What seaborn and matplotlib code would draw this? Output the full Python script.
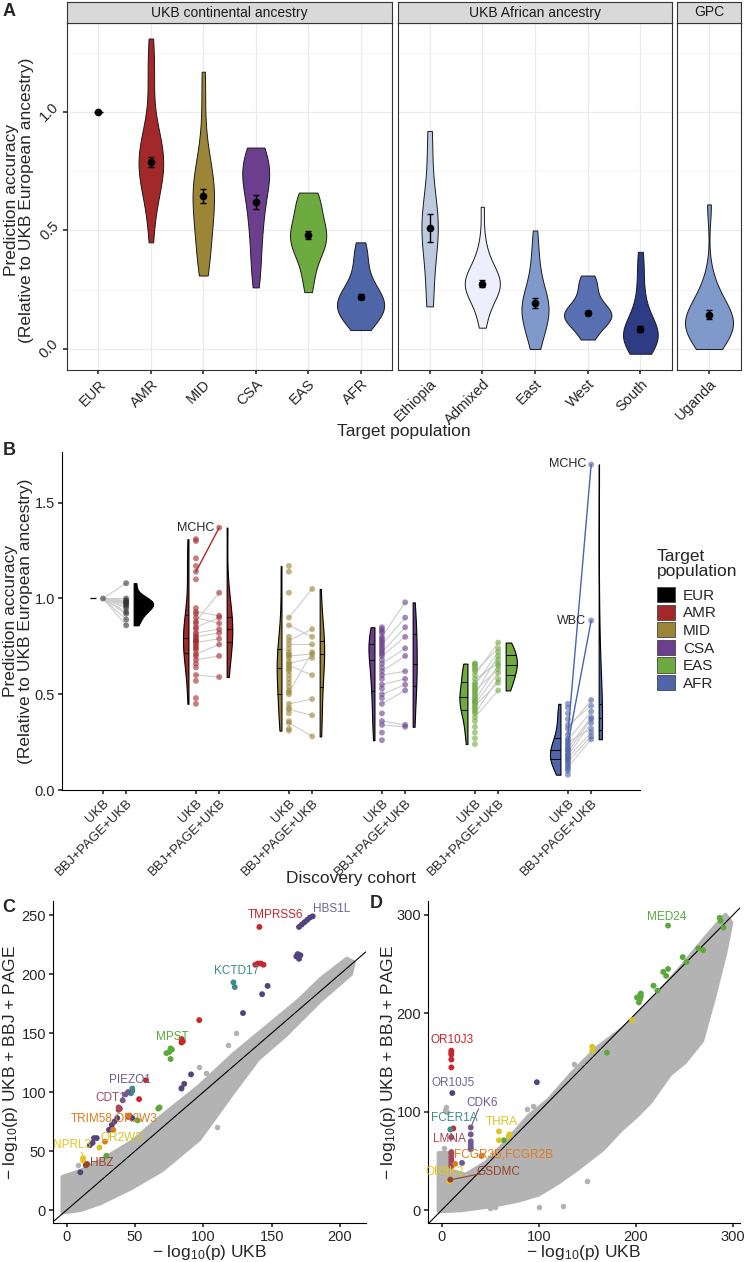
import pandas as pd
import matplotlib.pyplot as plt
import seaborn as sns
from matplotlib.patches import Patch

sns.set_theme(style="white")
plt.rcParams['font.family'] = ['Liberation Sans', 'DejaVu Sans']
plt.rcParams['mathtext.fontset'] = 'custom'
plt.rcParams['mathtext.rm'] = 'Liberation Sans'
plt.rcParams['mathtext.it'] = 'Liberation Sans:italic'

# ---------------- data ----------------
# accuracy relative to UKB European ancestry, UKB discovery, one value per trait
eur_ukb = [1.00]
amr_ukb = [1.31, 1.30, 1.21, 1.17, 1.14, 1.10, 0.95, 0.93, 0.92, 0.90, 0.88, 0.87, 0.85, 0.84,
           0.82, 0.81, 0.80, 0.79, 0.78, 0.78, 0.77, 0.76, 0.75, 0.74, 0.73, 0.71, 0.70, 0.68,
           0.66, 0.64, 0.60, 0.57, 0.48, 0.45]
mid_ukb = [1.17, 1.14, 1.03, 0.90, 0.86, 0.80, 0.78, 0.76, 0.74, 0.72, 0.71, 0.70, 0.69, 0.67,
           0.66, 0.65, 0.64, 0.63, 0.62, 0.60, 0.58, 0.56, 0.54, 0.52, 0.51, 0.50, 0.45, 0.43,
           0.42, 0.40, 0.36, 0.35, 0.32, 0.31]
csa_ukb = [0.85, 0.84, 0.83, 0.82, 0.80, 0.79, 0.78, 0.77, 0.76, 0.75, 0.74, 0.73, 0.72, 0.71,
           0.70, 0.68, 0.66, 0.64, 0.62, 0.60, 0.58, 0.55, 0.53, 0.50, 0.48, 0.45, 0.40, 0.36,
           0.34, 0.30, 0.26]
eas_ukb = [0.66, 0.66, 0.65, 0.64, 0.63, 0.62, 0.60, 0.58, 0.56, 0.55, 0.54, 0.53, 0.52, 0.51,
           0.50, 0.49, 0.48, 0.47, 0.46, 0.46, 0.45, 0.44, 0.43, 0.42, 0.41, 0.40, 0.38, 0.36,
           0.33, 0.30, 0.27, 0.24]
afr_ukb = [0.45, 0.43, 0.40, 0.37, 0.34, 0.32, 0.29, 0.27, 0.26, 0.25, 0.24, 0.23, 0.22, 0.21,
           0.21, 0.20, 0.19, 0.18, 0.18, 0.17, 0.16, 0.16, 0.15, 0.14, 0.13, 0.12, 0.11, 0.10, 0.08]

# UKB African sub-populations and GPC (Uganda)
ethiopia = [0.18, 0.19, 0.21, 0.23, 0.35, 0.40, 0.43, 0.45, 0.47, 0.49, 0.50, 0.51, 0.53, 0.55,
            0.57, 0.59, 0.62, 0.66, 0.71, 0.86, 0.90, 0.92]
admixed = [0.09, 0.14, 0.18, 0.21, 0.23, 0.24, 0.25, 0.26, 0.27, 0.27, 0.28, 0.29, 0.30, 0.31,
           0.32, 0.34, 0.36, 0.40, 0.46, 0.60]
east = [0.00, 0.03, 0.06, 0.09, 0.11, 0.13, 0.14, 0.16, 0.17, 0.18, 0.19, 0.20, 0.22, 0.24,
        0.27, 0.31, 0.36, 0.42, 0.50]
west = [0.04, 0.06, 0.08, 0.10, 0.11, 0.12, 0.13, 0.13, 0.14, 0.14, 0.15, 0.15, 0.16, 0.17,
        0.18, 0.19, 0.21, 0.23, 0.26, 0.28, 0.29, 0.31]
south = [-0.02, 0.00, 0.01, 0.02, 0.03, 0.04, 0.05, 0.06, 0.06, 0.07, 0.08, 0.09, 0.10, 0.12,
         0.14, 0.17, 0.22, 0.28, 0.35, 0.41]
uganda = [0.00, 0.02, 0.04, 0.06, 0.07, 0.08, 0.09, 0.10, 0.11, 0.12, 0.13, 0.14, 0.15, 0.17,
          0.19, 0.21, 0.24, 0.30, 0.61]

# panel A mean and standard error per target population
a_pops = ['EUR', 'AMR', 'MID', 'CSA', 'EAS', 'AFR', 'Ethiopia', 'Admixed', 'East', 'West',
          'South', 'Uganda']
a_mean = [1.00, 0.79, 0.645, 0.62, 0.48, 0.22, 0.51, 0.275, 0.195, 0.152, 0.085, 0.145]
a_se = [0.0, 0.02, 0.03, 0.03, 0.017, 0.01, 0.058, 0.015, 0.022, 0.01, 0.012, 0.018]

# panel B paired traits: UKB value -> BBJ+PAGE+UKB value
eur_pair_ukb = [1.00, 1.00, 1.00, 1.00, 1.00, 1.00, 1.00, 1.00, 1.00, 1.00, 1.00, 1.00, 1.00]
eur_pair_multi = [1.08, 1.00, 0.99, 0.985, 0.98, 0.975, 0.97, 0.96, 0.95, 0.93, 0.92, 0.89, 0.86]
amr_pair_ukb = [0.88, 0.93, 0.85, 0.90, 0.82, 0.80, 0.77, 0.71, 0.68, 0.60]
amr_pair_multi = [1.03, 0.91, 0.90, 0.87, 0.84, 0.82, 0.79, 0.76, 0.70, 0.59]
mid_pair_ukb = [0.90, 0.86, 0.78, 0.76, 0.70, 0.66, 0.51, 0.65, 0.45, 0.42, 0.35]
mid_pair_multi = [1.05, 0.80, 0.84, 0.76, 0.71, 0.69, 0.72, 0.60, 0.475, 0.39, 0.28]
csa_pair_ukb = [0.80, 0.76, 0.72, 0.70, 0.66, 0.62, 0.60, 0.55, 0.50, 0.45, 0.36, 0.34]
csa_pair_multi = [0.98, 0.90, 0.85, 0.80, 0.74, 0.70, 0.62, 0.58, 0.55, 0.52, 0.34, 0.33]
eas_pair_ukb = [0.60, 0.62, 0.55, 0.50, 0.56, 0.58, 0.47, 0.52, 0.45, 0.40, 0.44, 0.38]
eas_pair_multi = [0.77, 0.74, 0.72, 0.70, 0.68, 0.66, 0.65, 0.63, 0.61, 0.58, 0.56, 0.52]
afr_pair_ukb = [0.32, 0.34, 0.26, 0.22, 0.20, 0.18, 0.25, 0.17, 0.15, 0.12]
afr_pair_multi = [0.47, 0.44, 0.41, 0.38, 0.37, 0.35, 0.32, 0.30, 0.28, 0.265]

# highlighted traits in panel B
hl_pop = ['AMR', 'AFR', 'AFR']
hl_trait = ['MCHC', 'MCHC', 'WBC']
hl_ukb = [1.14, 0.29, 0.24]
hl_multi = [1.37, 1.70, 0.885]

pop_colors = {'EUR': '#000000', 'AMR': '#A3282A', 'MID': '#9C8537', 'CSA': '#6C3F8E',
              'EAS': '#6DAA3F', 'AFR': '#4E65A8', 'Ethiopia': '#BCCADF', 'Admixed': '#EEEEFC',
              'East': '#7F9ACA', 'West': '#5870B2', 'South': '#2E3B85', 'Uganda': '#7F9ACA'}
hl_colors = {'AMR': '#B0282C', 'AFR': '#4A63B2'}

# panel C: -log10(p) UKB vs UKB+BBJ+PAGE, coloured loci
c_x = [141, 138, 140, 142, 144, 97, 84, 85, 84, 58, 53, 46, 45,
       170, 172, 174, 176, 178, 180, 168, 169, 170, 171, 147, 143, 129, 91, 86, 84, 48, 37,
       35, 33, 31, 22, 20, 19, 17, 10,
       122, 123, 48, 48, 47,
       76, 77, 75, 73, 76, 68, 67, 52, 29,
       43, 45, 41, 38, 38, 39, 45, 34, 28, 24, 12, 12, 14, 15]
c_y = [240, 208, 209, 209, 208, 161, 145, 143, 142, 110, 94, 80, 79,
       240, 242, 244, 246, 248, 249, 215, 217, 213, 216, 190, 183, 167, 115, 107, 103, 78, 78,
       75, 72, 68, 61, 61, 57, 55, 32,
       193, 189, 103, 101, 99,
       137, 136, 134, 133, 128, 87, 86, 76, 46,
       98, 100, 93, 87, 85, 86, 80, 68, 58, 53, 42, 44, 38, 39]
c_grp = (['TMPRSS6'] * 13 + ['HBS1L'] * 26 + ['KCTD17'] * 5 + ['MPST'] * 9
         + ['PIEZO1'] * 3 + ['CDT1'] * 3 + ['TRIM58,OR2W3'] * 3 + ['OR2W3'] + ['NPRL3'] * 2
         + ['HBZ'] * 2)
c_grey_x = [118, 124, 150, 164, 175, 97, 102, 84, 63, 56, 186, 205, 197, 8, 130, 110, 90]
c_grey_y = [140, 150, 158, 166, 175, 121, 116, 104, 38, 34, 189, 210, 205, 38, 128, 70, 60]
# outline of the dense grey cloud (upper edge then lower edge)
c_env_x = [-3, 10, 25, 48, 70, 97, 122, 146, 170, 186, 205, 210,
           208, 186, 160, 140, 122, 97, 70, 48, 25, 10, -3]
c_env_y = [28, 33, 42, 58, 80, 105, 132, 155, 178, 196, 213, 210,
           200, 178, 148, 128, 100, 60, 34, 19, 6, 0, -2]
c_lab = ['TMPRSS6', 'HBS1L', 'KCTD17', 'MPST', 'PIEZO1', 'CDT1', 'TRIM58,OR2W3', 'OR2W3',
         'NPRL3', 'HBZ']
c_lab_x = [153, 194, 124, 77, 46, 32, 34.5, 40, 4, 25.6]
c_lab_y = [250, 255, 203, 147, 110, 95, 78, 61, 55.5, 39.5]

# panel D
d_x = [233, 201, 203, 204, 204, 205, 205, 287, 290, 286, 264, 269, 248, 252, 228, 231, 233,
       218, 222, 170, 64,
       196, 155, 155, 59, 59, 69, 70, 8,
       10, 10, 10, 10, 10, 12,
       98, 11, 30, 30, 30, 30, 30, 30, 21,
       9, 10, 10, 10, 10, 10, 10, 10, 14, 41, 9]
d_y = [289, 216, 211, 214, 218, 220, 217, 294, 287, 297, 266, 264, 257, 252, 242, 238, 245,
       228, 223, 160, 71,
       193, 166, 162, 80, 71, 75, 77, 29,
       162, 160, 158, 153, 145, 83,
       130, 119, 84, 77, 70, 67, 64, 62, 48,
       82, 74, 59, 57, 54, 51, 48, 45, 47, 55, 31]
d_grp = (['MED24'] * 21 + ['THRA'] * 7 + ['OR8K2'] + ['OR10J3'] * 6 + ['OR10J5'] * 2
         + ['CDK6'] * 7 + ['FCER1A'] + ['LMNA'] * 7 + ['FCGR3B,FCGR2B'] * 2 + ['GSDMC'])
d_grey_x = [5, 3, 6, 2, 125, 55, 50, 249, 228, 238, 222, 218, 258, 262, 88, 94, 136, 100, 150]
d_grey_y = [105, 102, 100, 63, 4, 3, 2, 162, 190, 191, 183, 161, 214, 212, 103, 106, 148, 3, 30]
d_env_x = [-3, 8, 10, 25, 45, 65, 90, 110, 135, 160, 190, 215, 245, 270, 292, 298,
           292, 280, 268, 250, 235, 215, 200, 185, 166, 140, 120, 100, 80, 50, 20, -3]
d_env_y = [58, 58, 40, 36, 48, 68, 96, 112, 140, 165, 187, 212, 245, 275, 300, 292,
           262, 215, 172, 150, 138, 110, 95, 82, 62, 42, 28, 16, 10, 4, 0, -1]
d_lab = ['MED24', 'OR10J3', 'OR10J5', 'CDK6', 'FCER1A', 'THRA', 'LMNA', 'FCGR3B,FCGR2B',
         'OR8K2', 'GSDMC']
d_lab_x = [232, 11, 12, 42, 13, 62, 8, 64, 3, 58]
d_lab_y = [298, 173, 129.5, 109, 93.5, 89.5, 72, 57, 39, 39]

gene_colors = {'TMPRSS6': '#C9252B', 'HBS1L': '#54447E', 'KCTD17': '#3E8B8B', 'MPST': '#5CA83B',
               'PIEZO1': '#6B5C93', 'CDT1': '#A4485E', 'TRIM58,OR2W3': '#DF7A1C',
               'OR2W3': '#D6C21F', 'NPRL3': '#E6C51D', 'HBZ': '#934528',
               'MED24': '#5CA83B', 'THRA': '#DCC420', 'OR10J3': '#C9252B', 'OR10J5': '#54447E',
               'CDK6': '#6B5C93', 'FCER1A': '#3E8B8B', 'LMNA': '#A4485E',
               'FCGR3B,FCGR2B': '#DF7A1C', 'OR8K2': '#E6C51D', 'GSDMC': '#934528'}
label_colors = dict(gene_colors, HBS1L='#6F619B', OR10J5='#6F619B')

# ---------------- figure ----------------
W, H = 744, 1262
fig = plt.figure(figsize=(W / 100, H / 100), dpi=100)


def px_box(x0, y0, x1, y1):
    return [x0 / W, 1 - y1 / H, (x1 - x0) / W, (y1 - y0) / H]


# ---- panel A ----
a_values = {'EUR': eur_ukb, 'AMR': amr_ukb, 'MID': mid_ukb, 'CSA': csa_ukb, 'EAS': eas_ukb,
            'AFR': afr_ukb, 'Ethiopia': ethiopia, 'Admixed': admixed, 'East': east,
            'West': west, 'South': south, 'Uganda': uganda}
dfA = pd.DataFrame([(p, v) for p in a_pops for v in a_values[p]], columns=['pop', 'acc'])
a_stats = pd.DataFrame({'pop': a_pops, 'mean': a_mean, 'se': a_se}).set_index('pop')

facets = [('UKB continental ancestry', a_pops[:6], 67, 392),
          ('UKB African ancestry', a_pops[6:11], 398, 672),
          ('GPC', a_pops[11:], 677, 741)]
for i, (title, order, x0, x1) in enumerate(facets):
    ax = fig.add_axes(px_box(x0, 23, x1, 370))
    sub = dfA[dfA['pop'].isin(order) & (dfA['pop'] != 'EUR')]
    sns.violinplot(data=sub, x='pop', y='acc', hue='pop', order=order,
                   palette=pop_colors, cut=0, inner=None, density_norm='area',
                   common_norm=True, width=0.9, linewidth=0.7, linecolor='#1a1a1a',
                   saturation=1, legend=False, ax=ax)
    if 'EUR' in order:
        # zero-variance violin collapses to a short line
        ax.hlines(eur_ukb[0], -0.085, 0.085, color='black', lw=1)
    st = a_stats.loc[order]
    ax.errorbar(range(len(order)), st['mean'], yerr=st['se'], fmt='o', color='black',
                ms=4.5, elinewidth=1, capsize=2.5, capthick=1, zorder=5)
    ax.set_xlim(-0.6, len(order) - 0.4)
    ax.set_ylim(-0.0886, 1.3755)
    ax.set_yticks([0, 0.5, 1.0])
    ax.set_yticks([0.25, 0.75, 1.25], minor=True)
    ax.grid(True, which='major', color='#EBEBEB', lw=0.9)
    ax.grid(True, which='minor', axis='y', color='#F2F2F2', lw=0.6)
    ax.set_axisbelow(True)
    for s in ax.spines.values():
        s.set_color('#333333')
        s.set_linewidth(0.8)
    ax.set_xlabel('')
    ax.set_ylabel('')
    ax.tick_params(axis='x', which='major', length=3, color='#333333', labelsize=10.5, pad=2,
                   bottom=True)
    for lab in ax.get_xticklabels():
        lab.set_rotation(45)
        lab.set_ha('right')
        lab.set_rotation_mode('anchor')
    if i == 0:
        ax.tick_params(axis='y', which='major', length=3, color='#333333', labelsize=10.5,
                       left=True, pad=1)
        ax.set_yticklabels(['0.0', '0.5', '1.0'], rotation=45, ha='right', va='center')
    else:
        ax.tick_params(axis='y', which='both', left=False, labelleft=False)
    ax.tick_params(axis='y', which='minor', left=False)
    strip = fig.add_axes(px_box(x0, 2, x1, 23))
    strip.set_facecolor('#D9D9D9')
    strip.set_xticks([])
    strip.set_yticks([])
    for s in strip.spines.values():
        s.set_color('#333333')
        s.set_linewidth(0.8)
    strip.text(0.5, 0.5, title, ha='center', va='center', fontsize=10, color='#1a1a1a',
               transform=strip.transAxes)

fig.text(19 / W, 1 - 200 / H, 'Prediction accuracy\n(Relative to UKB European ancestry)',
         rotation=90, ha='center', va='center', fontsize=12.5, linespacing=1.05)
fig.text(404 / W, 1 - 431 / H, 'Target population', ha='center', va='center', fontsize=12.5)

# ---- panel B ----
b_pops = ['EUR', 'AMR', 'MID', 'CSA', 'EAS', 'AFR']
b_ukb = {'EUR': eur_ukb, 'AMR': amr_ukb, 'MID': mid_ukb, 'CSA': csa_ukb, 'EAS': eas_ukb,
         'AFR': afr_ukb}
b_pairs = {'EUR': (eur_pair_ukb, eur_pair_multi), 'AMR': (amr_pair_ukb, amr_pair_multi),
           'MID': (mid_pair_ukb, mid_pair_multi), 'CSA': (csa_pair_ukb, csa_pair_multi),
           'EAS': (eas_pair_ukb, eas_pair_multi), 'AFR': (afr_pair_ukb, afr_pair_multi)}
UKB_OFF, MULTI_OFF = -0.125, 0.125
# seaborn draws an un-dodged split half with its flat edge half a width from the position
VIO_WIDTH = 0.55
VIO_POS = 0.2 + 0.2 * VIO_WIDTH

vio_rows, pt_rows, line_rows = [], [], []
for g, p in enumerate(b_pops):
    multi = list(b_pairs[p][1]) + [m for hp, m in zip(hl_pop, hl_multi) if hp == p]
    if p != 'EUR':
        vio_rows += [(g - VIO_POS, p + '|UKB', v) for v in b_ukb[p]]
    vio_rows += [(g + VIO_POS, p + '|multi', v) for v in multi]
    pt_rows += [(g + UKB_OFF, v, p) for v in b_ukb[p]]
    pt_rows += [(g + MULTI_OFF, v, p) for v in multi]
    line_rows += [(g, u, m) for u, m in zip(*b_pairs[p])]
dfV = pd.DataFrame(vio_rows, columns=['pos', 'key', 'acc'])
dfP = pd.DataFrame(pt_rows, columns=['x', 'acc', 'pop'])
keys = [p + '|' + c for p in b_pops for c in ('UKB', 'multi')]
key_pal = {k: pop_colors[k.split('|')[0]] for k in keys}

axb = fig.add_axes(px_box(62, 452, 640, 790))
sns.violinplot(data=dfV, x='pos', y='acc', hue='key', hue_order=keys, palette=key_pal,
               native_scale=True, split=True, dodge=False, inner='quart', cut=0,
               density_norm='area', common_norm=True, width=VIO_WIDTH, linewidth=0.8,
               linecolor='black', saturation=1, legend=False, ax=axb,
               inner_kws=dict(linewidth=0.7))
for ln in axb.lines:
    ln.set_linestyle('-')
# EUR with UKB discovery is 1 by definition: flat half violin
axb.hlines(eur_ukb[0], -0.26, -0.2, color='black', lw=0.9)
for g, u, m in line_rows:
    axb.plot([g + UKB_OFF, g + MULTI_OFF], [u, m], color='#CCCCCC', lw=0.8, zorder=2)
for p, t, u, m in zip(hl_pop, hl_trait, hl_ukb, hl_multi):
    g = b_pops.index(p)
    axb.plot([g + UKB_OFF, g + MULTI_OFF], [u, m], color=hl_colors[p], lw=1.0, zorder=2)
    axb.text(g + MULTI_OFF - 0.05, m, t, ha='right', va='center', fontsize=9)
pt_pal = dict(pop_colors, EUR='#333333')
sns.scatterplot(data=dfP, x='x', y='acc', hue='pop', palette=pt_pal, s=18, alpha=0.6,
                linewidth=0, legend=False, ax=axb, zorder=3)
axb.set_xlim(-0.565, 5.65)
axb.set_ylim(0, 1.765)
ticks, labs = [], []
for g in range(len(b_pops)):
    ticks += [g + UKB_OFF, g + MULTI_OFF]
    labs += ['UKB', 'BBJ+PAGE+UKB']
axb.set_xticks(ticks)
axb.set_xticklabels(labs, rotation=45, ha='right', rotation_mode='anchor', fontsize=9.5)
axb.set_yticks([0, 0.5, 1.0, 1.5])
axb.set_yticklabels(['0.0', '0.5', '1.0', '1.5'], fontsize=10.5)
axb.tick_params(length=3, color='#333333', left=True, bottom=True, pad=2)
for s in ['top', 'right']:
    axb.spines[s].set_visible(False)
for s in ['left', 'bottom']:
    axb.spines[s].set_color('black')
    axb.spines[s].set_linewidth(0.8)
axb.set_xlabel('')
axb.set_ylabel('')
fig.text(18 / W, 1 - 621 / H, 'Prediction accuracy\n(Relative to UKB European ancestry)',
         rotation=90, ha='center', va='center', fontsize=12.5, linespacing=1.05)
fig.text(351 / W, 1 - 879 / H, 'Discovery cohort', ha='center', va='center', fontsize=12.5)
fig.text(657 / W, 1 - 564 / H, 'Target\npopulation', ha='left', va='center', fontsize=12.5,
         linespacing=1.05)
handles = [Patch(facecolor=pop_colors[p], edgecolor='#444444', linewidth=0.6) for p in b_pops]
fig.legend(handles, b_pops, loc='upper left', bbox_to_anchor=(657 / W, 1 - 587 / H),
           frameon=False, fontsize=11, handlelength=1.15, handleheight=1.15,
           handletextpad=0.55, labelspacing=0.12, borderaxespad=0, borderpad=0)


# ---- panels C and D ----
def scatter_panel(box, xs, ys, grp, gx, gy, ex, ey, labs, lx, ly, xlim, ylim, xt, yt):
    ax = fig.add_axes(px_box(*box))
    ax.fill(ex, ey, color='#B3B3B3', lw=3, joinstyle='round', zorder=1)
    sns.scatterplot(x=gx, y=gy, color='#B3B3B3', s=16, linewidth=0, ax=ax, zorder=1)
    ax.axline((0, 0), slope=1, color='black', lw=0.8, zorder=2)
    df = pd.DataFrame({'x': xs, 'y': ys, 'grp': grp})
    sns.scatterplot(data=df, x='x', y='y', hue='grp', palette=gene_colors, s=18,
                    linewidth=0, legend=False, ax=ax, zorder=3)
    for t, x, y in zip(labs, lx, ly):
        ax.text(x, y, t, ha='center', va='center', fontsize=8.5, color=label_colors[t],
                zorder=4)
    ax.set_xlim(*xlim)
    ax.set_ylim(*ylim)
    ax.set_xticks(xt)
    ax.set_yticks(yt)
    ax.tick_params(labelsize=10.5, length=3, color='#333333', left=True, bottom=True, pad=2)
    for s in ['top', 'right']:
        ax.spines[s].set_visible(False)
    for s in ['left', 'bottom']:
        ax.spines[s].set_color('black')
        ax.spines[s].set_linewidth(0.8)
    ax.set_xlabel('')
    ax.set_ylabel('')
    return ax


axc = scatter_panel((53, 901, 366, 1223), c_x, c_y, c_grp, c_grey_x, c_grey_y, c_env_x,
                    c_env_y, c_lab, c_lab_x, c_lab_y, (-10, 219), (-11, 262),
                    [0, 50, 100, 150, 200], [0, 50, 100, 150, 200, 250])
axd = scatter_panel((428, 901, 740, 1223), d_x, d_y, d_grp, d_grey_x, d_grey_y, d_env_x,
                    d_env_y, d_lab, d_lab_x, d_lab_y, (-14, 307), (-13, 314),
                    [0, 100, 200, 300], [0, 100, 200, 300])
# leader lines for crowded labels
axc.plot([11, 12.5], [49, 44], color=gene_colors['NPRL3'], lw=0.8)
axd.plot([38, 30], [103, 84], color=gene_colors['CDK6'], lw=0.8)
axd.plot([40, 10], [37, 31], color=gene_colors['GSDMC'], lw=0.8)

xlab = r'$-$ log$_{10}$(p) UKB'
ylab = r'$-$ log$_{10}$(p) UKB + BBJ + PAGE'
fig.text(210 / W, 1 - 1252 / H, xlab, ha='center', va='center', fontsize=12.5)
fig.text(584 / W, 1 - 1252 / H, xlab, ha='center', va='center', fontsize=12.5)
fig.text(11 / W, 1 - 1062 / H, ylab, rotation=90, ha='center', va='center', fontsize=12.5)
fig.text(388 / W, 1 - 1062 / H, ylab, rotation=90, ha='center', va='center', fontsize=12.5)

# panel letters
for t, x, y in [('A', 3, 12), ('B', 3, 450), ('C', 2, 907), ('D', 370, 903)]:
    fig.text(x / W, 1 - y / H, t, ha='left', va='center', fontsize=13, fontweight='bold')

fig.savefig('out.png', dpi=100)
